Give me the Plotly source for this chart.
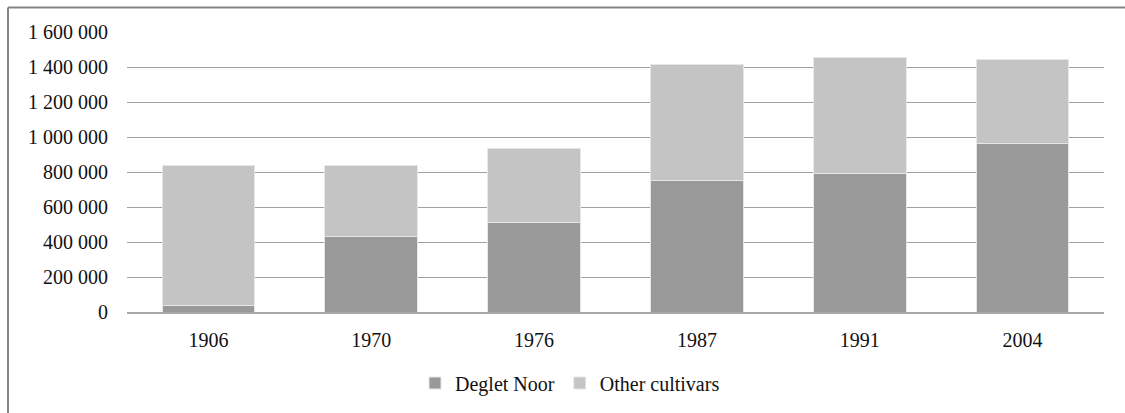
import plotly.graph_objects as go

years = ["1906", "1970", "1976", "1987", "1991", "2004"]
deglet_noor = [35000, 433000, 512000, 754000, 789000, 962000]
other_cultivars = [805000, 407000, 424000, 659000, 666000, 481000]
y_ticks = [0, 200000, 400000, 600000, 800000, 1000000, 1200000, 1400000, 1600000]

W, H = 1125, 413
L, R, T, B = 127, 21, 32, 101
pw = W - L - R
ph = H - T - B

def px(x):
    return (x - L) / pw

def py(y):
    return (H - B - y) / ph

font = dict(family="Liberation Serif", size=20, color="#111111")

fig = go.Figure()
fig.add_trace(go.Bar(
    x=years, y=deglet_noor, name="Deglet Noor",
    marker=dict(color="#999999", line=dict(color="#e6e6e6", width=1)),
))
fig.add_trace(go.Bar(
    x=years, y=other_cultivars, name="Other cultivars",
    marker=dict(color="#c4c4c4", line=dict(color="#e6e6e6", width=1)),
))

fig.update_layout(
    width=W, height=H,
    barmode="stack", bargap=0.43,
    margin=dict(l=L, r=R, t=T, b=B, pad=0, autoexpand=False),
    paper_bgcolor="white", plot_bgcolor="white",
    font=font,
    separators=". ",
    showlegend=True,
    legend=dict(orientation="h", x=px(570), y=py(383), xanchor="center", yanchor="middle",
                traceorder="normal",
                font=dict(family="Liberation Serif", size=20, color="#111111"),
                itemwidth=30, tracegroupgap=0),
    xaxis=dict(showline=True, linecolor="#a6a6a6", linewidth=1.5, showgrid=False,
               ticks="", ticklabelstandoff=9, tickfont=font),
    yaxis=dict(range=[0, 1600000], tickvals=y_ticks, tickformat=",d",
               showgrid=True, gridcolor="#a0a0a0", gridwidth=1.2,
               zeroline=False, showline=False, ticks="", ticklabelstandoff=18,
               tickfont=font),
    shapes=[
        dict(type="line", xref="paper", yref="paper", x0=px(8), x1=px(1125), y0=py(7.5), y1=py(7.5),
             line=dict(color="#858585", width=2)),
        dict(type="line", xref="paper", yref="paper", x0=px(8), x1=px(8), y0=py(7.5), y1=py(413),
             line=dict(color="#858585", width=2)),
    ],
)

fig.write_html("out.html", config={"displayModeBar": False},
               post_script="document.body.style.margin='0';document.body.style.overflow='hidden';")
